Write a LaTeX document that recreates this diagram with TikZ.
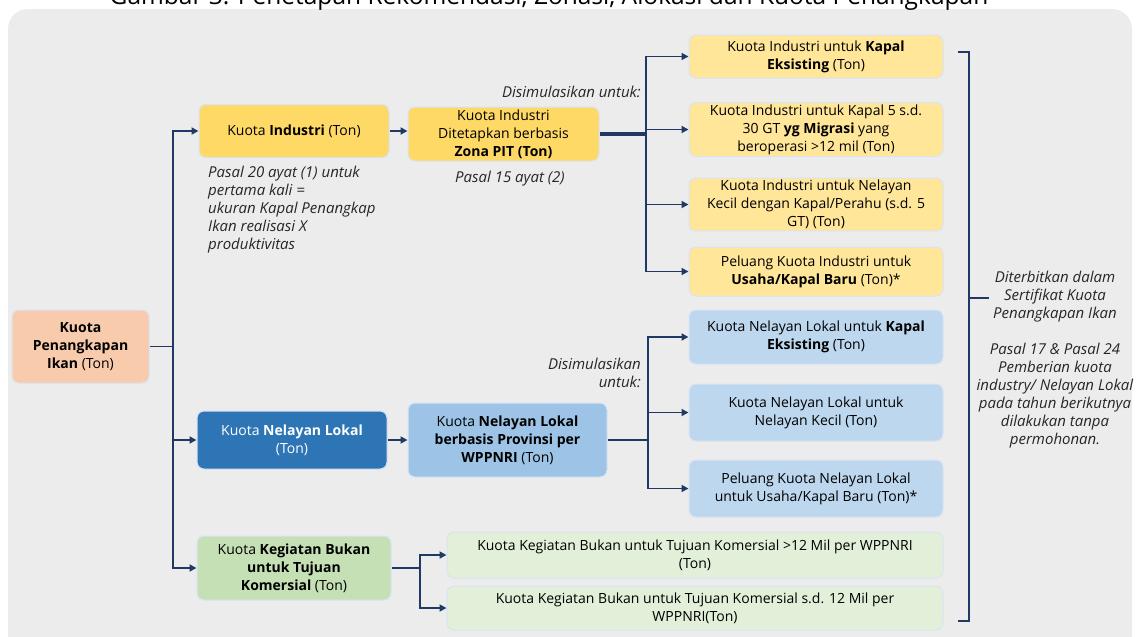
\documentclass[tikz,border=0pt]{standalone}
\usepackage{fontspec}
\setmainfont{Open Sans}
\usetikzlibrary{arrows.meta}
\definecolor{cPeach}{HTML}{F8CBAD}
\definecolor{cYel}{HTML}{FFD966}
\definecolor{cYelL}{HTML}{FFE699}
\definecolor{cBlueD}{HTML}{2E75B6}
\definecolor{cBlueM}{HTML}{9DC3E6}
\definecolor{cBlueL}{HTML}{BDD7EE}
\definecolor{cGreen}{HTML}{C5E0B4}
\definecolor{cGreenL}{HTML}{E2F0D9}
\definecolor{cBg}{HTML}{ECECEC}
\definecolor{cNavy}{HTML}{203864}
\definecolor{cBord}{HTML}{DAE3F3}
\newcommand{\fs}{\fontsize{14}{18}\selectfont}
\newcommand{\fsi}{\fontsize{15}{18}\selectfont\itshape}
\tikzset{
  box/.style={rounded corners=7pt, draw=cBord, line width=1pt, align=center, inner sep=2pt, font=\fs, text=black},
  ln/.style={draw=cNavy, line width=1.8pt},
  arr/.style={ln, -{Triangle[length=7pt,width=7pt]}},
  note/.style={font=\fsi, text=black!85, inner sep=0pt}
}
\begin{document}
\begin{tikzpicture}[x=1pt,y=-1pt]
\useasboundingbox (0,0) rectangle (1141,637);
\fill[white] (0,0) rectangle (1141,637);
\fill[cBg, rounded corners=20pt] (8,9) rectangle (1132,660);
\begin{scope}
\clip (0,0) rectangle (1141,637);
\node[anchor=base, font=\fontsize{24.5}{28}\selectfont, inner sep=0pt] (title) at (549,5) {Gambar 3. Penetapan Rekomendasi, Zonasi, Alokasi dan Kuota Penangkapan};
\end{scope}

% main nodes
\node[box, fill=cPeach, minimum width=137, minimum height=73] (kpi) at (80.5,346.5) {\textbf{Kuota}\\\textbf{Penangkapan}\\\textbf{Ikan} (Ton)};
\node[box, fill=cYel, minimum width=190, minimum height=53] (ind) at (294,131) {Kuota \textbf{Industri} (Ton)};
\node[box, fill=cYel, minimum width=191, minimum height=54] (zona) at (503.5,134) {Kuota Industri\\Ditetapkan berbasis\\\textbf{Zona PIT (Ton)}};
\node[box, fill=cBlueD, text=white, minimum width=190, minimum height=58] (nel) at (292,440) {Kuota \textbf{Nelayan Lokal}\\(Ton)};
\node[box, fill=cBlueM, minimum width=199, minimum height=74] (prov) at (507.5,440) {Kuota \textbf{Nelayan Lokal}\\\textbf{berbasis Provinsi per}\\\textbf{WPPNRI} (Ton)};
\node[box, fill=cGreen, minimum width=194, minimum height=64] (keg) at (294,568) {Kuota \textbf{Kegiatan Bukan}\\\textbf{untuk Tujuan}\\\textbf{Komersial} (Ton)};

% industri targets
\node[box, fill=cYelL, minimum width=254, minimum height=43] (i1) at (816,56.5) {Kuota Industri untuk \textbf{Kapal}\\\textbf{Eksisting} (Ton)};
\node[box, fill=cYelL, minimum width=254, minimum height=45] (i2) at (816,129.5) {Kuota Industri untuk Kapal 5 s.d.\\30 GT \textbf{yg Migrasi} yang\\beroperasi >12 mil (Ton)};
\node[box, fill=cYelL, minimum width=254, minimum height=47] (i3) at (816,204.5) {Kuota Industri untuk Nelayan\\Kecil dengan Kapal/Perahu (s.d. 5\\GT) (Ton)};
\node[box, fill=cYelL, minimum width=254, minimum height=49] (i4) at (816,271.5) {Peluang Kuota Industri untuk\\\textbf{Usaha/Kapal Baru} (Ton)*};

% nelayan targets
\node[box, fill=cBlueL, minimum width=254, minimum height=54] (b1) at (816,337) {Kuota Nelayan Lokal untuk \textbf{Kapal}\\\textbf{Eksisting} (Ton)};
\node[box, fill=cBlueL, minimum width=254, minimum height=57] (b2) at (816,412.5) {Kuota Nelayan Lokal untuk\\Nelayan Kecil (Ton)};
\node[box, fill=cBlueL, minimum width=254, minimum height=57] (b3) at (816,488.5) {Peluang Kuota Nelayan Lokal\\untuk Usaha/Kapal Baru (Ton)*};

% kegiatan targets
\node[box, fill=cGreenL, minimum width=496, minimum height=46] (g1) at (695,555) {Kuota Kegiatan Bukan untuk Tujuan Komersial >12 Mil per WPPNRI\\(Ton)};
\node[box, fill=cGreenL, minimum width=496, minimum height=44] (g2) at (695,608) {Kuota Kegiatan Bukan untuk Tujuan Komersial s.d. 12 Mil per\\WPPNRI(Ton)};

% notes
\node[note, anchor=north west, align=left] (n20) at (208,166) {Pasal 20 ayat (1) untuk\\pertama kali =\\ukuran Kapal Penangkap\\Ikan realisasi  X\\produktivitas};
\node[note, anchor=north] (n15) at (510,171) {Pasal 15 ayat (2)};
\node[note, anchor=east] (sim1) at (641,92) {Disimulasikan  untuk:};
\node[note, anchor=east, align=right] (sim2) at (641,373) {Disimulasikan\\untuk:};
\node[note, align=center] (right) at (1055,360) {Diterbitkan dalam\\Sertifikat Kuota\\Penangkapan Ikan\\[18pt]Pasal 17 \& Pasal 24\\Pemberian kuota\\industry/ Nelayan Lokal\\pada tahun berikutnya\\dilakukan tanpa\\permohonan.};

% trunk
\draw[ln] (kpi.east) -- (173,346.5) coordinate (t);
\draw[arr] (t) |- (ind.west);
\draw[arr] (t) |- (nel.west);
\draw[arr] (t) |- (keg.west);
\draw[arr] (ind.east) -- (zona.west |- ind.east);
\draw[arr] (nel.east) -- (prov.west);

% industri branch
\draw[draw=cNavy, line width=3.2pt] (zona.east) -- (646,134) coordinate (zb);
\foreach \n in {i1,i2,i3,i4} \draw[arr] (zb) |- (\n.west);

% nelayan branch
\draw[ln] (prov.east) -- (648,440) coordinate (pb);
\foreach \n in {b1,b2,b3} \draw[arr] (pb) |- (\n.west);

% kegiatan branch
\draw[ln] (keg.east) -- (420,568) coordinate (kb);
\foreach \n in {g1,g2} \draw[arr] (kb) |- (\n.west);

% bracket
\coordinate (bt) at (958,52);
\coordinate (bb) at (958,621);
\draw[ln, line width=1.6pt] (bt) -- (969,52) -- (969,621) -- (bb);
\draw[ln, line width=1.6pt] (969,298) -- (989,298) coordinate (bm);
\end{tikzpicture}
\end{document}
